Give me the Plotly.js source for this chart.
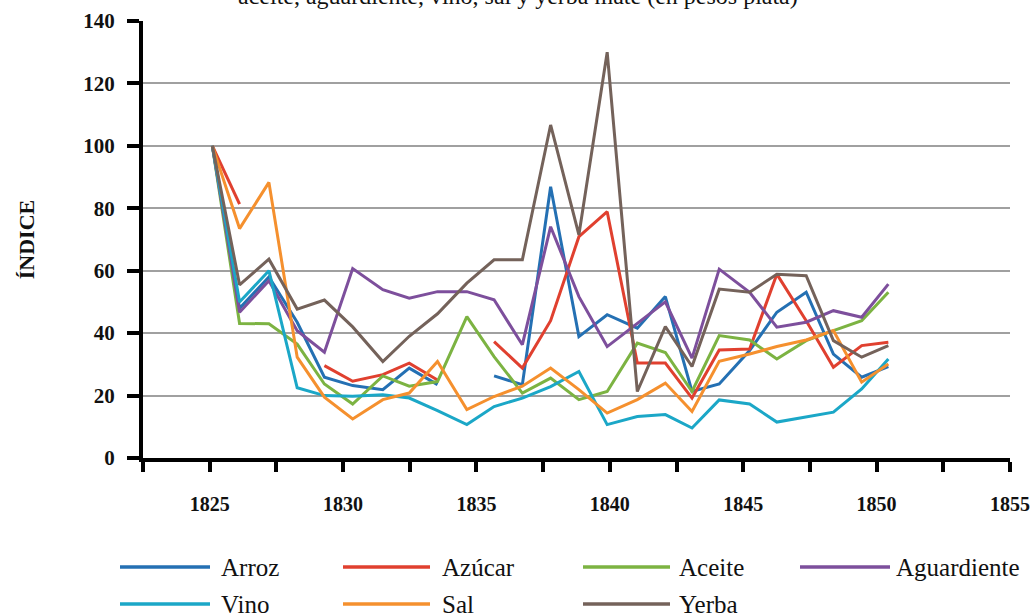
<!DOCTYPE html>
<html>
<head>
<meta charset="utf-8">
<script src="https://cdn.plot.ly/plotly-3.0.1.min.js"></script>
<style>
  html, body { margin: 0; padding: 0; background: #ffffff; overflow: hidden; }
  #chart { width: 1035px; height: 616px; }
</style>
</head>
<body>
<div id="chart"></div>
<script>
// Positions of the data points on the year axis
const years = [1825.10, 1826.12, 1827.22, 1828.28, 1829.30, 1830.36, 1831.49, 1832.48, 1833.54, 1834.64,
               1835.66, 1836.72, 1837.78, 1838.84, 1839.90, 1841.03, 1842.08, 1843.08, 1844.10, 1845.24,
               1846.26, 1847.36, 1848.38, 1849.44, 1850.44];

const arroz       = [100, 48, 58, 43.5, 25.9, 23.2, 21.9, 28.8, 23.5, null, 26.3, 23.5, 86.9, 38.9, 45.9, 41.6, 51.7, 21.3, 23.7, 34.4, 46.7, 53.1, 33.3, 25.9, 29.3];
const azucar      = [100, 81.3, null, null, 29.6, 24.6, 26.7, 30.4, 25, null, 37.3, 28.8, 44, 70.9, 78.9, 30.4, 30.4, 19.2, 34.6, 34.9, 58.9, 44, 29.1, 36, 37.1];
const aceite      = [100, 43.1, 43, 36.5, 23.7, 17.3, 26.3, 23, 24.5, 45.3, 32.5, 20.8, 25.6, 18.7, 21.3, 36.8, 33.8, 21.3, 39.2, 37.8, 31.7, 37.6, 40.8, 44, 53.1];
const aguardiente = [100, 46.7, 56.8, 40.8, 33.9, 60.7, 53.9, 51.2, 53.3, 53.3, 50.7, 36.3, 74.1, 51.7, 35.7, 43.2, 50, 32, 60.5, 53.1, 41.9, 43.5, 47.2, 45.1, 55.7];
const vino        = [100, 50, 60, 22.5, 20, 19.8, 20.3, 19.2, 15.2, 10.7, 16.5, 19.2, 22.9, 27.7, 10.7, 13.3, 13.9, 9.6, 18.6, 17.3, 11.5, 13.1, 14.7, 22.1, 31.7];
const sal         = [100, 73.5, 88.3, 32.3, 19.5, 12.5, 18.7, 20.8, 30.9, 15.5, 19.7, 23, 28.8, 21.9, 14.4, 18.7, 24, 14.9, 31, 33.3, 35.7, 37.8, 40.8, 24.3, 30.1];
const yerba       = [100, 55.5, 63.7, 47.7, 50.6, 42, 30.9, 39, 46.2, 56, 63.5, 63.5, 106.7, 71.5, 130, 21.3, 42.1, 29.3, 54.1, 53.1, 58.9, 58.4, 37.6, 32.3, 36];

const seriesNames = ['Arroz', 'Azúcar', 'Aceite', 'Aguardiente', 'Vino', 'Sal', 'Yerba'];
const seriesData  = [arroz, azucar, aceite, aguardiente, vino, sal, yerba];
const colors      = ['#2470b3', '#e0402f', '#7cb342', '#7d4f9c', '#1ba7c7', '#f5902e', '#74625a'];

const titleText = 'aceite, aguardiente, vino, sal y yerba mate (en pesos plata)';
const yTitle = 'ÍNDICE';

const FONT = 'Liberation Serif';
const W = 1035, H = 616;
const M = {l: 143, r: 25, t: 21, b: 158};
const PW = W - M.l - M.r, PH = H - M.t - M.b;
const px2x = p => (p - M.l) / PW;
const px2y = p => (H - M.b - p) / PH;

const traces = seriesData.map((d, i) => ({
  type: 'scatter', mode: 'lines', name: seriesNames[i],
  x: years, y: d, connectgaps: false,
  line: {color: colors[i], width: 3},
  hoverinfo: 'x+y+name'
}));

// custom legend (two rows, long line samples)
const legendCols = [[120, 210, 219], [343, 430, 440], [583, 670, 677], [800, 890, 894]];
const legendRows = [567, 604];
const shapes = [];
const annotations = [];
seriesNames.forEach((n, i) => {
  const col = legendCols[i % 4], row = legendRows[Math.floor(i / 4)];
  shapes.push({type: 'line', xref: 'paper', yref: 'paper',
    x0: px2x(col[0]), x1: px2x(col[1]), y0: px2y(row), y1: px2y(row),
    line: {color: colors[i], width: 3.5}});
  annotations.push({xref: 'paper', yref: 'paper', x: px2x(col[2]), y: px2y(row),
    xanchor: 'left', yanchor: 'middle', text: n, showarrow: false,
    font: {family: FONT, size: 25, color: '#111'}});
});
annotations.push({xref: 'paper', yref: 'paper', x: px2x(518), y: px2y(-4),
  xanchor: 'center', yanchor: 'middle', text: titleText, showarrow: false,
  font: {family: FONT, size: 24, color: '#111'}});

const layout = {
  width: W, height: H,
  margin: M,
  paper_bgcolor: '#ffffff', plot_bgcolor: '#ffffff',
  showlegend: false,
  font: {family: FONT, color: '#111'},
  xaxis: {
    range: [1822.5, 1855], tick0: 1825, dtick: 5,
    showgrid: false, zeroline: false,
    showline: true, linecolor: '#000', linewidth: 4,
    ticks: 'outside', ticklen: 10, tickwidth: 4, tickcolor: '#000',
    minor: {dtick: 2.5, tick0: 1822.5, ticks: 'outside', ticklen: 10, tickwidth: 4, tickcolor: '#000', showgrid: false},
    tickfont: {family: FONT, size: 20, color: '#111', weight: 'bold'},
    ticklabelstandoff: 15
  },
  yaxis: {
    range: [0, 140], dtick: 20, tick0: 0,
    showgrid: true, gridcolor: '#a0a0a0', gridwidth: 2, zeroline: false,
    showline: true, linecolor: '#000', linewidth: 4,
    ticks: 'outside', ticklen: 12, tickwidth: 4, tickcolor: '#000',
    tickfont: {family: FONT, size: 21, color: '#111', weight: 'bold'},
    ticklabelstandoff: 8,
    title: {text: yTitle, standoff: 44, font: {family: FONT, size: 22, color: '#111', weight: 'bold'}}
  },
  shapes: shapes,
  annotations: annotations
};

Plotly.newPlot('chart', traces, layout, {displayModeBar: false, staticPlot: true});
</script>
</body>
</html>
